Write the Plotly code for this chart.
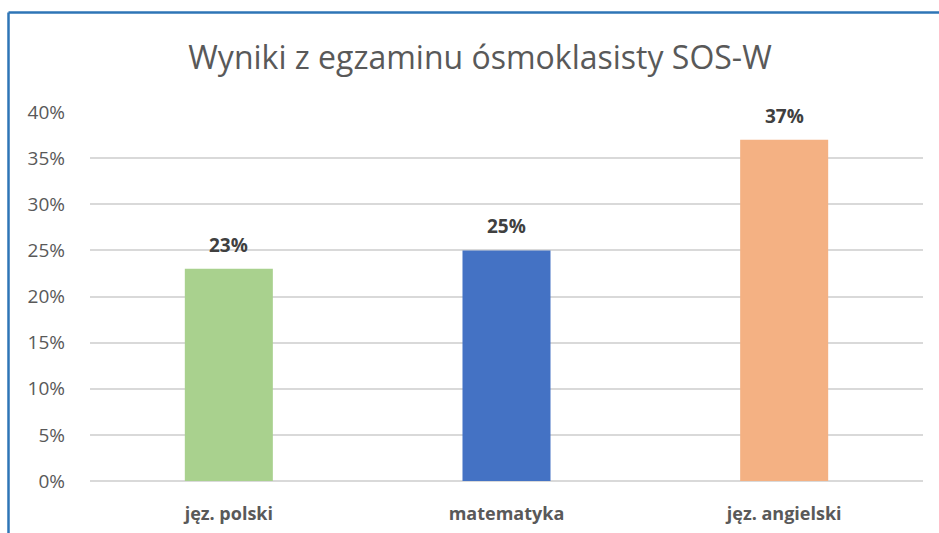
import plotly.graph_objects as go

categories = ["jęz. polski", "matematyka", "jęz. angielski"]
values = [0.23, 0.25, 0.37]
colors = ["#A9D18E", "#4472C4", "#F4B183"]
tick_vals = [0, 0.05, 0.10, 0.15, 0.20, 0.25, 0.30, 0.35, 0.40]
tick_text = ["0%", "5%", "10%", "15%", "20%", "25%", "30%", "35%", "40%"]
title = "Wyniki z egzaminu ósmoklasisty SOS-W"

fig = go.Figure()
fig.add_trace(go.Bar(x=categories, y=values, marker=dict(color=colors, line=dict(width=0)),
                     width=0.317, hoverinfo="skip"))

for c, v in zip(categories, values):
    fig.add_annotation(x=c, y=v, text=f"<b>{round(v*100)}%</b>", showarrow=False,
                       yanchor="bottom", yshift=9,
                       font=dict(family="Open Sans, sans-serif", size=19, color="#404040"))

fig.update_layout(
    width=939, height=533,
    margin=dict(l=90, r=16, t=112, b=52),
    paper_bgcolor="white", plot_bgcolor="white",
    showlegend=False,
    title=dict(text=title, x=480/939, xref="container", y=1 - 58/533, yanchor="middle",
               xanchor="center",
               font=dict(family="Open Sans, sans-serif", size=32, color="#595959")),
    xaxis=dict(showgrid=False, zeroline=False, showline=False, ticks="", automargin=False,
               tickfont=dict(family="Open Sans, sans-serif", size=18, color="#595959", weight="bold"),
               ticklabelstandoff=20),
    yaxis=dict(range=[0, 0.4], tickvals=tick_vals, ticktext=tick_text, automargin=False,
               showgrid=True, gridcolor="#D9D9D9", gridwidth=1.5,
               zeroline=True, zerolinecolor="#D9D9D9", zerolinewidth=1.5,
               showline=False, ticks="",
               tickfont=dict(family="Open Sans, sans-serif", size=19, color="#595959"),
               ticklabelstandoff=24),
    shapes=[
        dict(type="line", xref="paper", yref="paper",
             x0=(8.5-90)/833, x1=(950-90)/833, y0=(481-12.5)/369, y1=(481-12.5)/369,
             line=dict(color="#2E75B6", width=2.5)),
        dict(type="line", xref="paper", yref="paper",
             x0=(8.5-90)/833, x1=(8.5-90)/833, y0=(481-12.5)/369, y1=(481-545)/369,
             line=dict(color="#2E75B6", width=2.5)),
    ],
)

fig.write_html("out.html", config={"displayModeBar": False},
               post_script="document.body.style.margin='0';")
